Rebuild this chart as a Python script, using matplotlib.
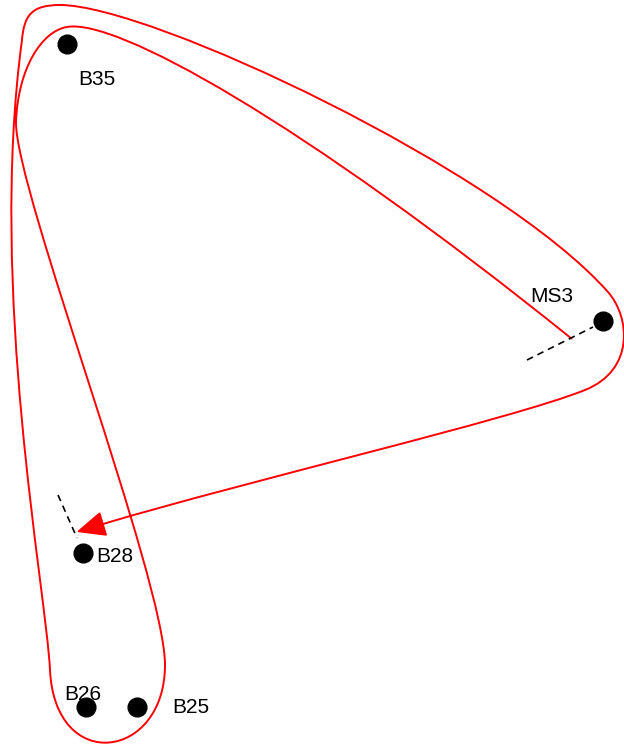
import numpy as np
import matplotlib
matplotlib.use("Agg")
import matplotlib.pyplot as plt
from matplotlib.path import Path
from matplotlib.patches import PathPatch, Polygon

plt.rcParams['font.family'] = ['Liberation Sans', 'DejaVu Sans']

# ---- data (pixel-space layout of the graph) ----
node_names = ["B35", "MS3", "B28", "B26", "B25"]
node_x = [66.7, 603.0, 83.0, 86.0, 136.7]
node_y = [44.0, 321.0, 553.0, 706.5, 706.5]
label_x = [96.7, 551.7, 115.0, 83.0, 191.0]
label_y = [85.0, 302.0, 562.0, 700.0, 713.0]

# dashed stubs
stub_x = [[527, 593], [58, 77]]
stub_y = [[360, 327], [495, 538]]

# red route: start point followed by cubic bezier triples (c1, c2, end)
route_start = (572, 339)
route_curves = [
    ((300, 120), (115, 18), (67, 27)),
    ((42, 31), (18, 68), (16, 122)),
    ((15, 190), (165, 580), (165, 665)),
    ((165, 760), (55, 775), (50, 670)),
    ((46, 590), (-12, 290), (22, 40)),
    ((24, 15), (32, 5), (60, 5)),
    ((150, 5), (500, 170), (608, 292)),
    ((630, 317), (635, 370), (585, 390)),
    ((510, 420), (250, 480), (103, 524)),
]
arrow_len = 26
arrow_halfw = 11.5

fig = plt.figure(figsize=(6.24, 7.49), dpi=100)
ax = fig.add_axes([0, 0, 1, 1])
ax.set_xlim(0, 624)
ax.set_ylim(749, 0)
ax.axis('off')

verts = [route_start]
codes = [Path.MOVETO]
for c1, c2, p in route_curves:
    verts += [c1, c2, p]
    codes += [Path.CURVE4] * 3
ax.add_patch(PathPatch(Path(verts, codes), fill=False, edgecolor='#ff0000',
                       lw=1.4, capstyle='butt', zorder=2))

# arrowhead
c2 = np.array(route_curves[-1][1], float)
end = np.array(route_curves[-1][2], float)
d = end - c2
d /= np.hypot(*d)
n = np.array([-d[1], d[0]])
tip = end + d * arrow_len
head = [tip, end + n * arrow_halfw, end - n * arrow_halfw]
ax.add_patch(Polygon(head, closed=True, facecolor='#ff0000', edgecolor='#ff0000',
                     lw=1, zorder=3))

for sx, sy in zip(stub_x, stub_y):
    ax.plot(sx, sy, color='black', lw=1.2, ls=(0, (4, 3)), zorder=2)

ax.plot(node_x, node_y, 'o', color='black', markersize=13.5, zorder=4)
for name, lx, ly in zip(node_names, label_x, label_y):
    ax.text(lx, ly, name, ha='center', va='baseline', fontsize=15,
            color='black', zorder=5)

fig.savefig('out.png', dpi=100)
